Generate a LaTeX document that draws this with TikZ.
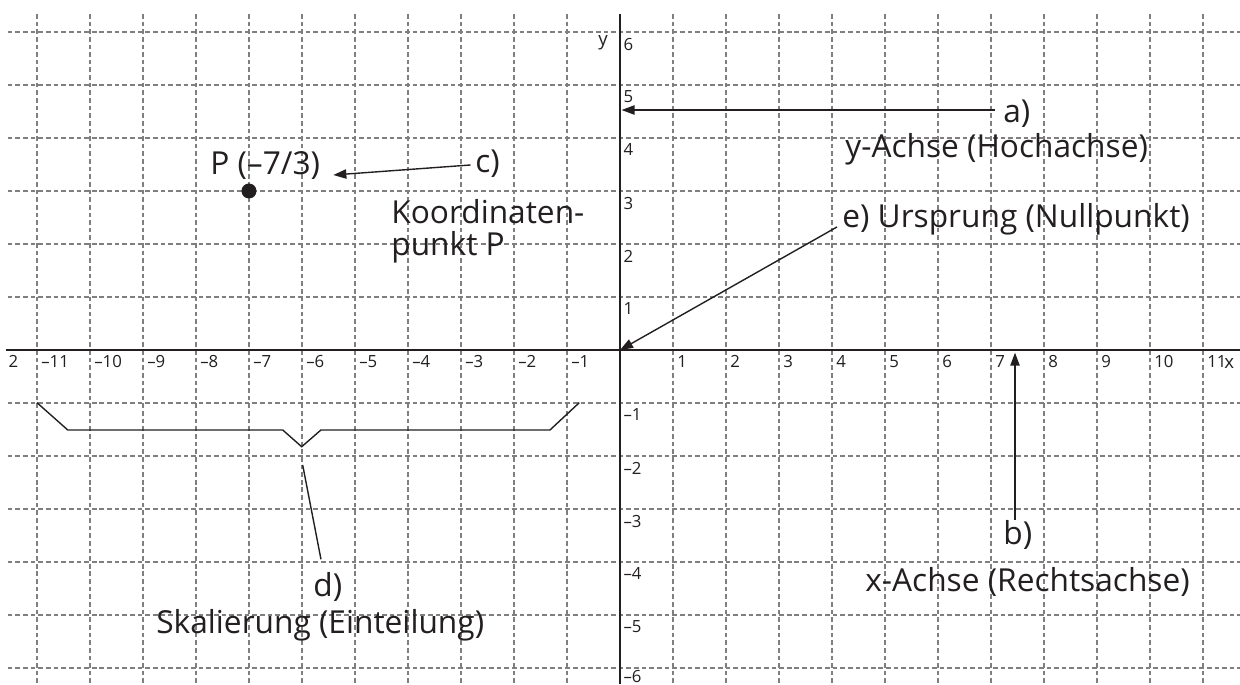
\documentclass[tikz,border=0pt]{standalone}
\usepackage{fontspec}
\setmainfont{Open Sans}
\usetikzlibrary{arrows.meta}
\definecolor{ink}{HTML}{231F20}
\definecolor{gridgray}{HTML}{7F7F7F}
\begin{document}
\begin{tikzpicture}[x=1cm,y=1cm,
  gridline/.style={gridgray, line width=0.55pt, dash pattern=on 2.5pt off 1.6pt},
  axisline/.style={ink, line width=1.1pt},
  arr/.style={ink, line width=0.75pt, -{Triangle[length=7pt,width=5pt]}},
  lead/.style={ink, line width=0.75pt, line join=miter},
  lbl/.style={font=\fontsize{17}{18}\selectfont, text=ink, inner sep=0pt, anchor=base west},
  tick/.style={font=\fontsize{9}{10}\selectfont, text=ink, inner sep=0pt, anchor=north west},
]
\useasboundingbox (-11.6981,-6.3019) rectangle (11.6981,6.6038);
\fill[white] (-11.6981,-6.3019) rectangle (11.6981,6.6038);
% grid
\foreach \y in {-6,...,6} \draw[gridline] (-11.55,\y) -- (11.70,\y);
\foreach \x in {-11,...,11} \draw[gridline] (\x,6.34) -- (\x,-6.31);
% axes
\draw[axisline] (-11.58,0) -- (11.70,0);
\draw[axisline] (0,6.34) -- (0,-6.31);
% tick labels x
\node[tick] (tx12) at (-11.54,-0.09) {2};
\foreach \x [evaluate=\x as \ax using int(-\x)] in {-11,...,-1}
  \node[tick] (txm\ax) at (\x+0.075,-0.09) {–\ax};
\foreach \x in {1,...,11}
  \node[tick] (txp\x) at (\x+0.075,-0.09) {\x};
\node[tick, anchor=base west, font=\fontsize{10}{11}\selectfont] (xlab) at (11.396,-0.349) {x};
% tick labels y
\foreach \y in {1,...,6}
  \node[tick] (typ\y) at (0.06,\y-0.105) {\y};
\foreach \y [evaluate=\y as \ay using int(-\y)] in {-5,...,-1}
  \node[tick] (tym\ay) at (0.06,\y-0.105) {–\ay};
\node[tick, anchor=south west] (tym6) at (0.06,-6.285) {–6};
\node[tick, anchor=base west, font=\fontsize{10}{11}\selectfont] (ylab) at (-0.415,5.736) {y};
% point P
\node[circle, fill=ink, minimum size=0.283cm, inner sep=0pt] (P) at (-7,3) {};
% labels
\node[lbl] (la) at (7.226,4.283) {a)};
\node[lbl] (ta) at (4.245,3.623) {y-Achse (Hochachse)};
\node[lbl] (te) at (4.189,2.302) {e) Ursprung (Nullpunkt)};
\node[lbl] (lb) at (7.226,-3.679) {b)};
\node[lbl] (tb) at (4.623,-4.566) {x-Achse (Rechtsachse)};
\node[lbl] (tp) at (-7.736,3.302) {P (–7/3)};
\node[lbl] (lc) at (-2.736,3.340) {c)};
\node[lbl] (tc1) at (-4.321,2.396) {Koordinaten-};
\node[lbl] (tc2) at (-4.321,1.792) {punkt P};
\node[lbl] (ld) at (-5.792,-4.660) {d)};
\node[lbl] (td) at (-8.755,-5.340) {Skalierung (Einteilung)};
% connector end points
\coordinate (aS) at (7.075,4.528);
\coordinate (aT) at (0.03,4.528);
\coordinate (cS) at (-2.817,3.491);
\coordinate (cT) at (-5.409,3.302);
\coordinate (eS) at (4.094,2.321);
\coordinate (O) at (0,0);
\coordinate (bS) at (7.453,-3.208);
\coordinate (bT) at (7.453,-0.05);
\coordinate (dS) at (-5.987,-2.170);
\coordinate (dE) at (-5.642,-3.949);
% connectors
\draw[arr] (aS) -- (aT);
\draw[arr] (cS) -- (cT);
\draw[arr] (eS) -- (O);
\draw[arr] (bS) -- (bT);
\draw[lead] (dS) -- (dE);
% scale brace
\draw[lead] (-11,-0.994) -- (-10.42,-1.509) -- (-6.364,-1.509) -- (-6.006,-1.825)
  -- (-5.642,-1.509) -- (-1.321,-1.509) -- (-0.768,-0.994);
\end{tikzpicture}
\end{document}
